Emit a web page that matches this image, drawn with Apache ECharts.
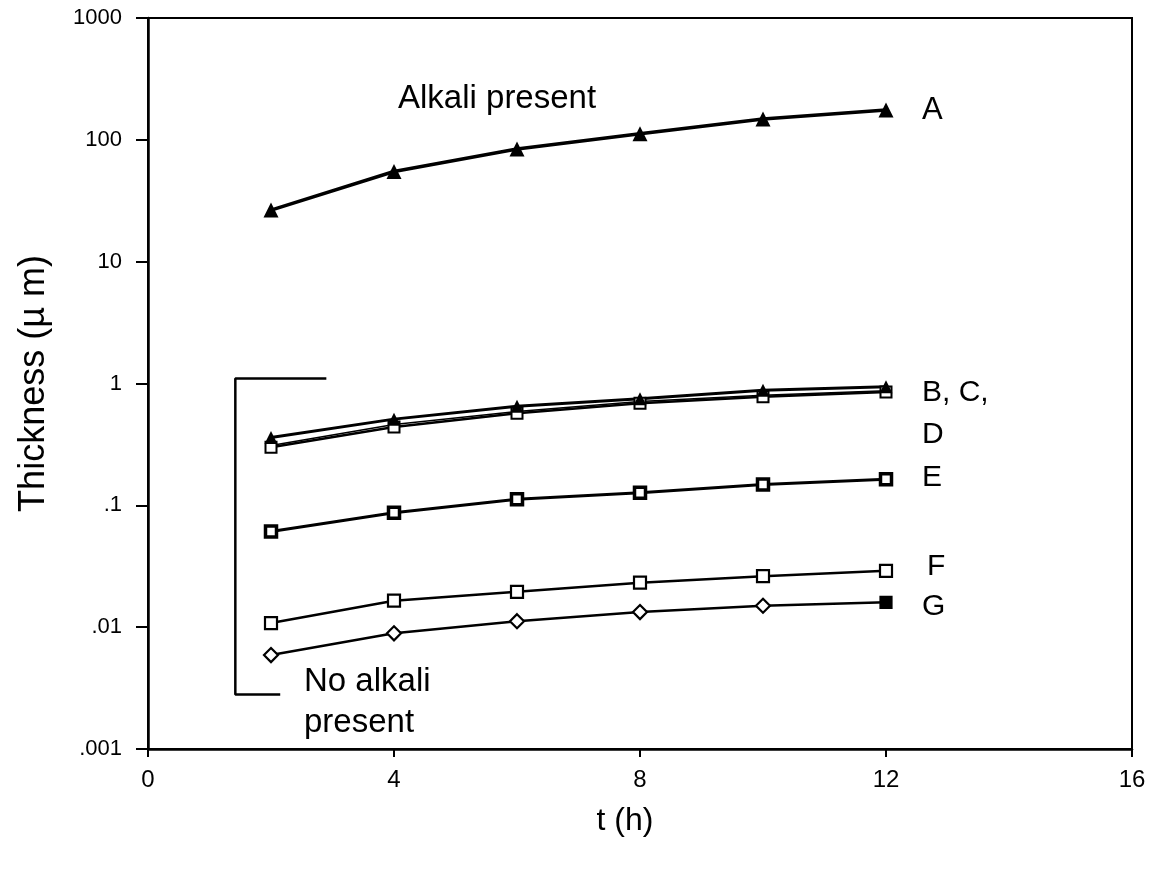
<!DOCTYPE html>
<html><head><meta charset="utf-8">
<script src="https://cdn.jsdelivr.net/npm/echarts@6/dist/echarts.min.js"></script>
<style>html,body{margin:0;padding:0;background:#fff}#c{width:1157px;height:881px}</style>
</head><body><div id="c"></div>
<script>
const times = [2, 4, 6, 8, 10, 12];
const seriesA = [26.5, 55, 84, 112, 148, 176];
const seriesB = [0.36, 0.51, 0.65, 0.75, 0.88, 0.94];
const seriesC = [0.30, 0.44, 0.57, 0.69, 0.78, 0.85];
const seriesD = [0.31, 0.46, 0.59, 0.71, 0.80, 0.87];
const seriesE = [0.061, 0.087, 0.112, 0.127, 0.148, 0.164];
const seriesF = [0.0108, 0.0165, 0.0195, 0.0232, 0.0262, 0.0290];
const seriesG = [0.0059, 0.0089, 0.0112, 0.0133, 0.0150, 0.0160];
const xTicks = [0, 4, 8, 12, 16];
const yTickLabels = {"0.001": ".001", "0.01": ".01", "0.1": ".1", "1": "1", "10": "10", "100": "100", "1000": "1000"};
const bracketPts = [[2.9, 1.1], [1.42, 1.1], [1.42, 0.0028], [2.15, 0.0028]];

const pair = arr => times.map((t, i) => [t, arr[i]]);
const FONT = '"Liberation Sans", Arial, sans-serif';

function line(name, data, opts) {
  return Object.assign({
    name, type: 'line', data: pair(data), symbol: 'rect', symbolSize: 11,
    lineStyle: {color: '#000', width: 2.5},
    itemStyle: {color: '#fff', borderColor: '#000', borderWidth: 2},
    z: 3, animation: false
  }, opts || {});
}

const gData = pair(seriesG).map((p, i) => i === seriesG.length - 1
  ? {value: p, symbol: 'rect', symbolSize: 11, itemStyle: {color: '#000'}}
  : {value: p});

function txt(s, left, top, size) {
  return {type: 'text', left, top, style: {text: s, font: size + 'px ' + FONT, fill: '#000'}};
}

const chart = echarts.init(document.getElementById('c'));
chart.setOption({
  backgroundColor: '#fff',
  animation: false,
  grid: {left: 148, right: 25, top: 18, bottom: 132, show: true, borderColor: '#000', borderWidth: 2},
  xAxis: {
    type: 'value', min: 0, max: 16, interval: 4,
    axisLine: {show: true, lineStyle: {color: '#000', width: 2.5}},
    axisTick: {show: true, length: 8, lineStyle: {color: '#000', width: 2}},
    axisLabel: {color: '#000', fontSize: 24, fontFamily: FONT, margin: 19,
      formatter: v => xTicks.indexOf(v) >= 0 ? String(v) : ''},
    splitLine: {show: false},
    name: 't (h)', nameLocation: 'middle', nameGap: 56,
    nameTextStyle: {color: '#000', fontSize: 32, fontFamily: FONT, padding: [0, 30, 0, 0]}
  },
  yAxis: {
    type: 'log', logBase: 10, min: 0.001, max: 1000,
    axisLine: {show: true, lineStyle: {color: '#000', width: 2.5}},
    axisTick: {show: true, length: 12, lineStyle: {color: '#000', width: 2}},
    axisLabel: {color: '#000', fontSize: 22, fontFamily: FONT, margin: 26,
      formatter: v => { const k = String(+v.toPrecision(3)); return yTickLabels[k] !== undefined ? yTickLabels[k] : ''; }},
    splitLine: {show: false}, minorTick: {show: false},
    name: 'Thickness (\u00b5 m)', nameLocation: 'middle', nameGap: 96,
    nameTextStyle: {color: '#000', fontSize: 36, fontFamily: FONT}
  },
  series: [
    line('A', seriesA, {symbol: 'triangle', symbolSize: 15, lineStyle: {color: '#000', width: 3.5}, itemStyle: {color: '#000'}}),
    line('D', seriesD, {symbol: 'circle', symbolSize: 5, lineStyle: {color: '#000', width: 1.5}, itemStyle: {color: '#000'}}),
    line('C', seriesC, {symbol: 'rect', symbolSize: 11, lineStyle: {color: '#000', width: 2.5}}),
    line('B', seriesB, {symbol: 'triangle', symbolSize: 13, lineStyle: {color: '#000', width: 3}, itemStyle: {color: '#000'}}),
    line('E', seriesE, {symbol: 'rect', symbolSize: 11, lineStyle: {color: '#000', width: 3}, itemStyle: {color: '#fff', borderColor: '#000', borderWidth: 3.5}}),
    line('F', seriesF, {symbol: 'rect', symbolSize: 12, lineStyle: {color: '#000', width: 2.5}, itemStyle: {color: '#fff', borderColor: '#000', borderWidth: 2.2}}),
    Object.assign(line('G', seriesG, {symbol: 'diamond', symbolSize: 14, lineStyle: {color: '#000', width: 2.5}, itemStyle: {color: '#fff', borderColor: '#000', borderWidth: 2.2}}), {data: gData}),
    {name: 'bracket', type: 'line', data: bracketPts, symbol: 'none', lineStyle: {color: '#000', width: 2.5}, z: 2, animation: false}
  ],
  graphic: [
    txt('Alkali present', 398, 82, 33),
    txt('A', 922, 95, 31),
    txt('B, C,', 922, 378, 30),
    txt('D', 922, 420, 30),
    txt('E', 922, 463, 30),
    txt('F', 927, 552, 30),
    txt('G', 922, 592, 30),
    txt('No alkali', 304, 665, 33),
    txt('present', 304, 706, 33)
  ]
});
</script></body></html>
